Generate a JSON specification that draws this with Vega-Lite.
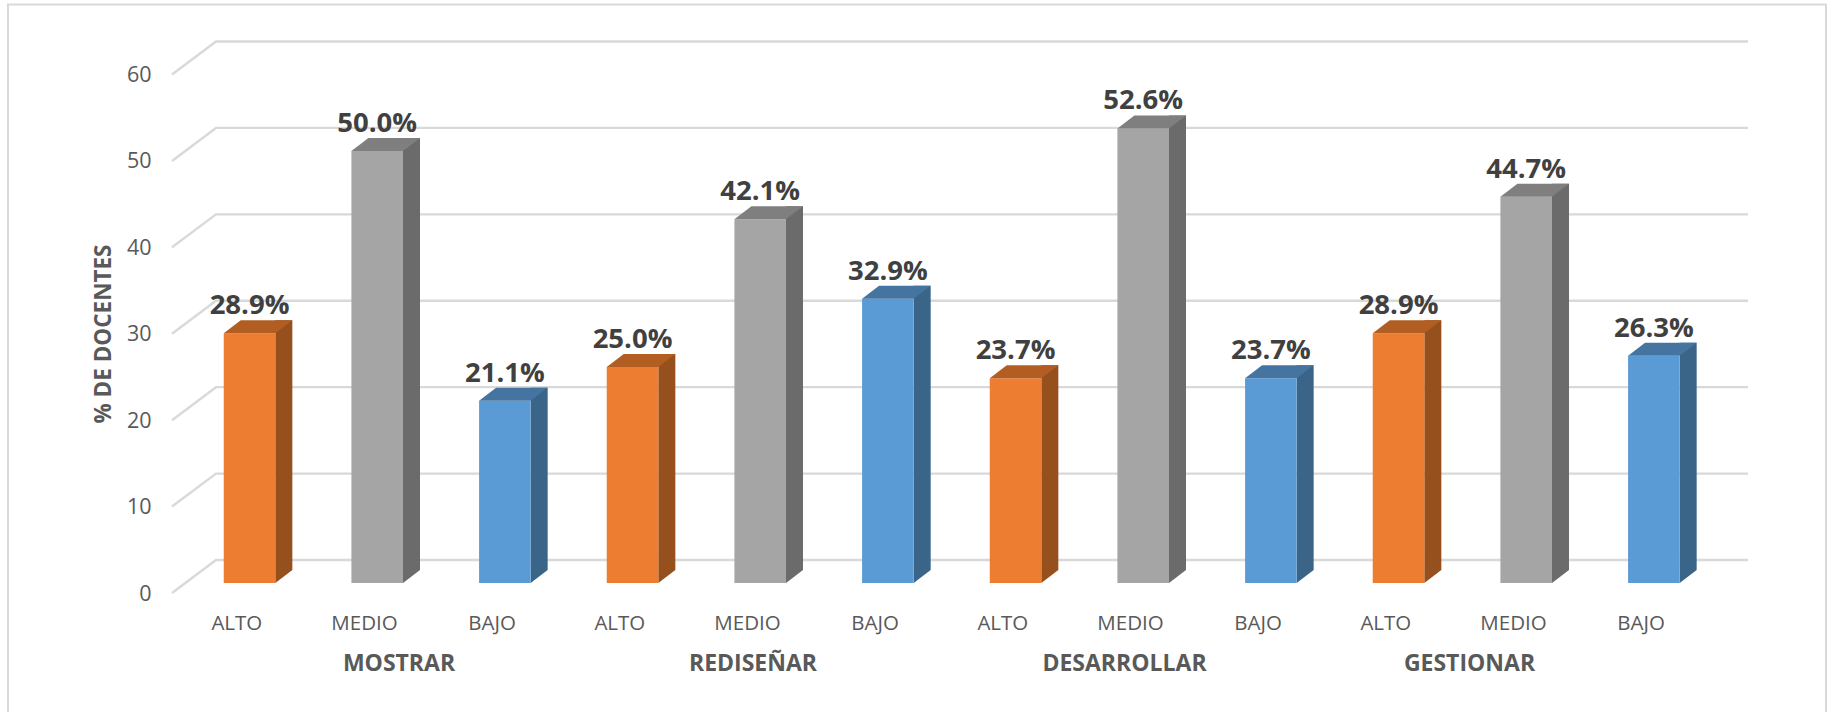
{
"$schema":"https://vega.github.io/schema/vega-lite/v6.json",
"width":1818,"height":712,
"autosize":{"type":"none"},
"padding":{"left":8,"top":4.5,"right":7,"bottom":-4.5},
"background":"white",
"config":{"view":{"stroke":"#d9d9d9","strokeWidth":2},"font":"Open Sans"},
"datasets":{
"barras":[
{"id":"MOSTRAR|ALTO","nivel":"ALTO","valor":28.9,"etiqueta":"28.9%"},
{"id":"MOSTRAR|MEDIO","nivel":"MEDIO","valor":50.0,"etiqueta":"50.0%"},
{"id":"MOSTRAR|BAJO","nivel":"BAJO","valor":21.1,"etiqueta":"21.1%"},
{"id":"REDISEÑAR|ALTO","nivel":"ALTO","valor":25.0,"etiqueta":"25.0%"},
{"id":"REDISEÑAR|MEDIO","nivel":"MEDIO","valor":42.1,"etiqueta":"42.1%"},
{"id":"REDISEÑAR|BAJO","nivel":"BAJO","valor":32.9,"etiqueta":"32.9%"},
{"id":"DESARROLLAR|ALTO","nivel":"ALTO","valor":23.7,"etiqueta":"23.7%"},
{"id":"DESARROLLAR|MEDIO","nivel":"MEDIO","valor":52.6,"etiqueta":"52.6%"},
{"id":"DESARROLLAR|BAJO","nivel":"BAJO","valor":23.7,"etiqueta":"23.7%"},
{"id":"GESTIONAR|ALTO","nivel":"ALTO","valor":28.9,"etiqueta":"28.9%"},
{"id":"GESTIONAR|MEDIO","nivel":"MEDIO","valor":44.7,"etiqueta":"44.7%"},
{"id":"GESTIONAR|BAJO","nivel":"BAJO","valor":26.3,"etiqueta":"26.3%"}
],
"base":[
{"id":"MOSTRAR|ALTO","nivel":"ALTO","valor":0},
{"id":"MOSTRAR|MEDIO","nivel":"MEDIO","valor":0},
{"id":"MOSTRAR|BAJO","nivel":"BAJO","valor":0},
{"id":"REDISEÑAR|ALTO","nivel":"ALTO","valor":0},
{"id":"REDISEÑAR|MEDIO","nivel":"MEDIO","valor":0},
{"id":"REDISEÑAR|BAJO","nivel":"BAJO","valor":0},
{"id":"DESARROLLAR|ALTO","nivel":"ALTO","valor":0},
{"id":"DESARROLLAR|MEDIO","nivel":"MEDIO","valor":0},
{"id":"DESARROLLAR|BAJO","nivel":"BAJO","valor":0},
{"id":"GESTIONAR|ALTO","nivel":"ALTO","valor":0},
{"id":"GESTIONAR|MEDIO","nivel":"MEDIO","valor":0},
{"id":"GESTIONAR|BAJO","nivel":"BAJO","valor":0}
],
"marcas":[{"id":"MOSTRAR|ALTO","valor":0},{"id":"MOSTRAR|ALTO","valor":10},{"id":"MOSTRAR|ALTO","valor":20},{"id":"MOSTRAR|ALTO","valor":30},{"id":"MOSTRAR|ALTO","valor":40},{"id":"MOSTRAR|ALTO","valor":50},{"id":"MOSTRAR|ALTO","valor":60}]
},
"data":{"name":"barras"},
"encoding":{
"x":{"field":"id","type":"nominal","sort":null,
"scale":{"type":"band","domain":["MOSTRAR|ALTO","MOSTRAR|MEDIO","MOSTRAR|BAJO","REDISEÑAR|ALTO","REDISEÑAR|MEDIO","REDISEÑAR|BAJO","DESARROLLAR|ALTO","DESARROLLAR|MEDIO","DESARROLLAR|BAJO","GESTIONAR|ALTO","GESTIONAR|MEDIO","GESTIONAR|BAJO"],"range":[164,1696],"paddingInner":0,"paddingOuter":0},
"axis":{"title":null,"offset":-123.5,"domain":false,"ticks":false,"grid":false,"labelAngle":0,"labelPadding":20,"labelOffset":1,"labelFont":"Open Sans","labelFontSize":20.5,"labelColor":"#595959","labelExpr":"split(datum.value,'|')[1]"}},
"y":{"field":"valor","type":"quantitative","scale":{"domain":[0,60],"range":[588.5,70],"nice":false,"zero":true},
"axis":{"title":"% DE DOCENTES","offset":-164,"values":[0,10,20,30,40,50,60],"domain":false,"ticks":false,"grid":false,"labelPadding":21,"labelOffset":1,"labelFont":"Open Sans","labelFontSize":21.5,"labelColor":"#595959","titleFont":"Open Sans","titleFontSize":22.5,"titleFontWeight":"bold","titleColor":"#595959","titleX":-69,"titleY":329,"titleAlign":"center","titleBaseline":"middle"}}
},
"layer":[
{"data":{"name":"marcas"},
"mark":{"type":"point","shape":"M0,0L44,-33L1576,-33","filled":false,"stroke":"#d9d9d9","strokeWidth":2.4,"size":4,"opacity":1,"xOffset":-63.83}},
{"mark":{"type":"bar","width":17,"xOffset":48,"yOffset":-23},
"encoding":{"color":{"field":"nivel","type":"nominal","legend":null,"scale":{"domain":["ALTO","MEDIO","BAJO"],"range":["#95501D","#6B6B6B","#3A6488"]}}}},
{"data":{"name":"base"},"mark":{"type":"point","shape":"M0,0L17,-13L0,-13Z","filled":true,"size":4,"opacity":1,"xOffset":39.5,"yOffset":-10},
"encoding":{"color":{"field":"nivel","type":"nominal","legend":null,"scale":{"domain":["ALTO","MEDIO","BAJO"],"range":["#95501D","#6B6B6B","#3A6488"]}}}},
{"mark":{"type":"bar","width":{"band":0.404},"xOffset":13.7,"yOffset":-10},
"encoding":{"fill":{"field":"nivel","type":"nominal","legend":null,"scale":{"domain":["ALTO","MEDIO","BAJO"],"range":["#ED7D31","#A5A5A5","#5B9BD5"]}}}},
{"mark":{"type":"point","shape":"M0,0L51.6,0L68.6,-13L17,-13Z","filled":true,"size":4,"opacity":1,"strokeWidth":0,"xOffset":-12.1,"yOffset":-10},
"encoding":{"fill":{"field":"nivel","type":"nominal","legend":null,"scale":{"domain":["ALTO","MEDIO","BAJO"],"range":["#B25E22","#7F7F7F","#44749F"]}}}},
{"mark":{"type":"text","font":"Open Sans","fontSize":27.5,"fontWeight":"bold","fill":"#404040","dx":13.7,"dy":-29,"baseline":"alphabetic","align":"center"},
"encoding":{"text":{"field":"etiqueta"}}},
{"data":{"values":[{"id":"MOSTRAR|MEDIO","grupo":"MOSTRAR","valor":0}]},"mark":{"type":"text","font":"Open Sans","fontSize":23,"fontWeight":"bold","fill":"#595959","dx":35.5,"dy":71,"baseline":"middle"},"encoding":{"text":{"field":"grupo"}}},
{"data":{"values":[{"id":"REDISEÑAR|MEDIO","grupo":"REDISEÑAR","valor":0}]},"mark":{"type":"text","font":"Open Sans","fontSize":23,"fontWeight":"bold","fill":"#595959","dx":6.5,"dy":71,"baseline":"middle"},"encoding":{"text":{"field":"grupo"}}},
{"data":{"values":[{"id":"DESARROLLAR|MEDIO","grupo":"DESARROLLAR","valor":0}]},"mark":{"type":"text","font":"Open Sans","fontSize":23,"fontWeight":"bold","fill":"#595959","dx":-5,"dy":71,"baseline":"middle"},"encoding":{"text":{"field":"grupo"}}},
{"data":{"values":[{"id":"GESTIONAR|MEDIO","grupo":"GESTIONAR","valor":0}]},"mark":{"type":"text","font":"Open Sans","fontSize":23,"fontWeight":"bold","fill":"#595959","dx":-43,"dy":71,"baseline":"middle"},"encoding":{"text":{"field":"grupo"}}}
],
"resolve":{"scale":{"color":"independent","fill":"independent"}}
}
